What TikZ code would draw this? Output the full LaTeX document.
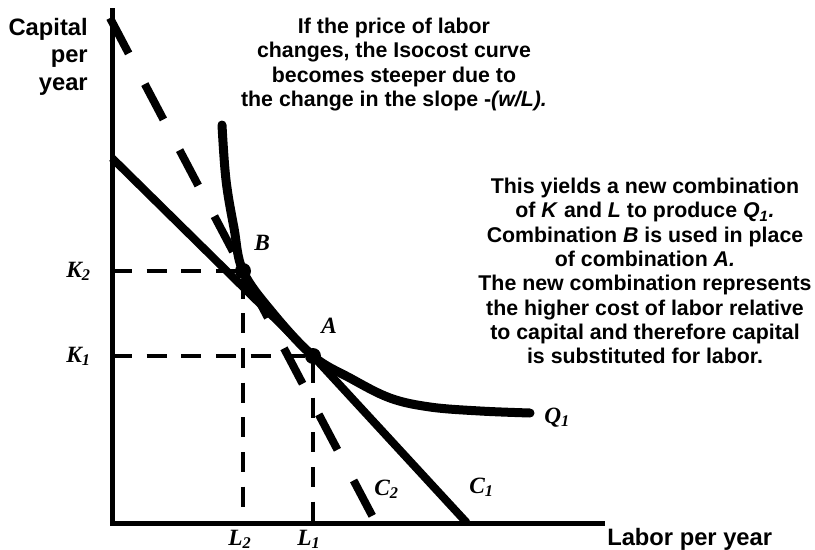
\documentclass[tikz,border=0pt]{standalone}
\usepackage{fontspec}
\setmainfont{Liberation Sans}
\newfontfamily\lblfont{Liberation Serif}
\usepackage{tikz}
\usetikzlibrary{positioning, calc}
\tikzset{
  axis/.style={line width=3.75pt, color=black},
  isocost/.style={line width=6pt, color=black},
  newcost/.style={line width=6pt, color=black, dash pattern=on 30pt off 26pt},
  guide/.style={line width=3.5pt, color=black, dash pattern=on 15pt off 11pt},
  isoquant/.style={line width=6.75pt, color=black, line cap=round},
  note/.style={font=\fontsize{16}{18.2}\selectfont\bfseries, align=center, inner sep=0pt},
  axlabel/.style={font=\fontsize{17.8}{20.5}\selectfont\bfseries, inner sep=0pt},
  ptlabel/.style={font=\lblfont\fontsize{17.5}{20}\selectfont\bfseries\itshape, inner sep=0pt},
  pointdot/.style={circle, fill=black, minimum size=12pt, inner sep=0pt}
}

\begin{document}
\begin{tikzpicture}[x=0.75pt, y=-0.75pt]
  \useasboundingbox (0,0) rectangle (815,550);

  % Axes
  \coordinate (ytop) at (112,8);
  \coordinate (origin) at (112,523);
  \coordinate (xend) at (605,523);
  \draw[axis] (ytop) -- (origin) -- (xend);

  % Points of tangency
  \coordinate (ptA) at (313,356);
  \coordinate (ptB) at (243,271);

  % Isocost lines
  \coordinate (c1top) at (112,158);
  \coordinate (c1bot) at (467,523);
  \draw[isocost] (c1top) -- (ptA) -- (c1bot);
  \coordinate (c2top) at (110,18);
  \coordinate (c2bot) at (376,523);
  \draw[newcost] (c2top) -- (c2bot);

  % Isoquant Q1
  \draw[isoquant] plot[smooth, tension=0.6] coordinates {(222,125) (226,180) (234,228) (243,271)
    (272,312) (313,356) (350,378) (390,398) (430,407) (480,411) (530,413)};

  % Guide lines to the axes
  \draw[guide] (ptB -| origin) -- (ptB) -- (ptB |- origin);
  \draw[guide] (ptA -| origin) -- (ptA) -- (ptA |- origin);
  \node[pointdot] (dotA) at (ptA) {};
  \node[pointdot] (dotB) at (ptB) {};

  % Point and curve labels
  \node[ptlabel, anchor=base east] (k2) at (91,277) {K\textsubscript{2}};
  \node[ptlabel, anchor=base east] (k1) at (91,362) {K\textsubscript{1}};
  \node[ptlabel, anchor=base] (l2) at (240,545) {L\textsubscript{2}};
  \node[ptlabel, anchor=base] (l1) at (309,545) {L\textsubscript{1}};
  \node[ptlabel, anchor=base west] (labB) at (254,250) {B};
  \node[ptlabel, anchor=base west] (labA) at (321,333) {A};
  \node[ptlabel, anchor=base west] (labC2) at (374,495) {C\textsubscript{2}};
  \node[ptlabel, anchor=base west] (labC1) at (469,493) {C\textsubscript{1}};
  \node[ptlabel, anchor=base west] (labQ) at (544,423) {Q\textsubscript{1}};

  % Axis titles
  \node[axlabel, align=right, anchor=north east] (ylab) at (88,18) {Capital\\per\\year};
  \node[axlabel, anchor=base west] (xlab) at (607,545) {Labor per year};

  % Notes
  \node[note, anchor=north] (note1) at (394,18) {If the price of labor\\changes, the Isocost curve\\becomes steeper due to\\the change in the slope -\textit{(w/L).}};
  \node[note, anchor=north] (note2) at (645,178) {This yields a new combination\\of \textit{K} and \textit{L} to produce \textit{Q\textsubscript{1}.}\\Combination \textit{B} is used in place\\of combination \textit{A.}\\The new combination represents\\the higher cost of labor relative\\to capital and therefore capital\\is substituted for labor.};

\end{tikzpicture}
\end{document}
